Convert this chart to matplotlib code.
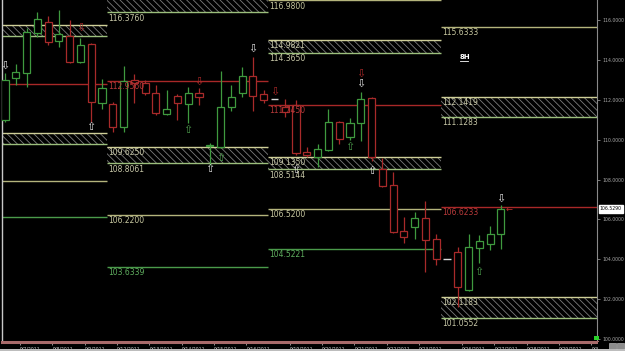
import numpy as np
import matplotlib.pyplot as plt
from matplotlib.patches import Rectangle

plt.rcParams['font.family'] = ['DejaVu Sans']
plt.rcParams['hatch.linewidth'] = 0.6

# 8H bars, one per index
opens  = [110.99, 113.09, 113.34, 115.35, 115.90, 114.95, 115.20, 113.89, 114.80, 111.84,
          111.79, 110.64, 112.99, 112.84, 112.34, 111.29, 112.19, 111.79, 112.34, 109.70,
          109.63, 111.64, 112.34, 113.19, 112.29, 112.04, 111.64, 111.74, 109.38, 109.13,
          109.48, 110.89, 110.14, 110.84, 112.09, 108.53, 107.73, 105.42, 105.62, 106.07,
          105.02, 104.02, 104.37, 102.47, 104.57, 104.77, 105.27]
highs  = [113.34, 113.79, 115.60, 116.40, 116.20, 116.50, 116.00, 115.10, 114.82, 113.04,
          111.89, 113.69, 113.29, 112.99, 112.74, 112.49, 112.29, 112.64, 112.59, 109.85,
          113.44, 112.74, 113.64, 114.15, 112.49, 112.04, 112.04, 111.99, 109.63, 109.79,
          111.54, 110.92, 111.09, 112.39, 112.12, 109.08, 108.38, 106.13, 106.38, 106.93,
          105.27, 104.02, 104.62, 105.27, 105.22, 105.67, 106.73]
lows   = [110.89, 112.74, 112.64, 115.15, 114.75, 114.65, 113.85, 113.85, 110.89, 111.54,
          110.39, 110.39, 111.84, 112.24, 111.24, 111.24, 110.99, 110.84, 111.74, 108.75,
          109.58, 111.44, 112.14, 111.44, 111.84, 112.04, 111.14, 109.23, 109.13, 108.63,
          109.45, 109.79, 109.99, 109.94, 108.95, 107.63, 105.32, 104.82, 105.02, 103.37,
          103.72, 104.02, 101.61, 102.42, 103.82, 104.47, 104.52]
closes = [112.99, 113.39, 115.40, 116.05, 114.90, 115.30, 113.89, 114.75, 111.89, 112.59,
          110.64, 112.94, 112.84, 112.34, 111.34, 111.54, 111.84, 112.34, 112.14, 109.74,
          111.64, 112.14, 113.19, 112.19, 111.99, 112.04, 111.39, 109.33, 109.23, 109.53,
          110.89, 110.04, 110.84, 112.04, 109.13, 107.68, 105.37, 105.12, 106.07, 104.97,
          104.02, 104.02, 102.62, 104.62, 104.92, 105.27, 106.53]
flat_bars = [25, 41]          # short sunday bars
last_price = 106.529

dates = ['9/7/2011', '9/8/2011', '9/9/2011', '9/12/2011', '9/13/2011', '9/14/2011',
         '9/15/2011', '9/16/2011', '9/19/2011', '9/20/2011', '9/21/2011', '9/22/2011',
         '9/23/2011', '9/26/2011', '9/27/2011', '9/28/2011', '9/29/2011', '9/30/2011']
date_bars = [1, 4, 7, 10, 13, 16, 19, 22, 26, 29, 32, 35, 38, 42, 45, 48, 51, 54]

# pivot periods (bar index where each one starts / ends)
seg_start = [-1.0, 9.46, 24.4, 40.45]
seg_end   = [9.46, 24.4, 40.45, 56.0]

band_seg  = [0, 0, 1, 1, 2, 2, 3, 3]
band_low  = [115.20, 109.78, 116.376, 108.8061, 114.365, 108.5144, 111.1283, 101.0552]
band_high = [115.75, 110.34, 117.40, 109.625, 114.9821, 109.135, 112.1419, 102.1183]

line_seg   = [0, 0, 0, 1, 1, 1, 2, 2, 2, 2, 3, 3]
line_price = [112.79, 107.93, 106.13, 112.956, 106.22, 103.6339,
              116.98, 111.745, 106.52, 104.5221, 115.6333, 106.6233]
line_kind  = ['r', 'y', 'g', 'r', 'y', 'g', 'y', 'r', 'y', 'g', 'y', 'r']

sig_bar   = [0, 7, 8, 17, 18, 19, 20, 23, 25, 27, 32, 33, 33, 34, 44, 46]
sig_price = [113.69, 115.60, 110.64, 110.49, 112.89, 108.53, 109.08, 114.55, 112.39,
             108.48, 109.63, 113.29, 112.79, 108.43, 103.37, 107.03]
sig_up    = [0, 0, 1, 1, 0, 1, 1, 0, 0, 1, 1, 0, 0, 1, 1, 0]
sig_col   = ['w', 'r', 'w', 'g', 'r', 'w', 'g', 'w', 'r', 'w', 'g', 'r', 'w', 'w', 'g', 'w']

GREEN = '#3f9a3f'
RED = '#a82a2a'
colmap = {'r': '#a82828', 'y': '#b4b47c', 'g': '#4a9a4a', 'w': '#e0e0e0'}
textmap = {'r': '#b83a3a', 'y': '#c8c8a0', 'g': '#5fae5f'}

fig = plt.figure(figsize=(6.25, 3.51), dpi=100, facecolor='black')
ax = fig.add_axes([2 / 625, 9 / 351, 595 / 625, 342 / 351])
ax.set_facecolor('black')
ax.set_xlim(-0.28, 54.92)
ax.set_ylim(99.86, 117.0)
ytop = ax.get_ylim()[1]

# hatched zones
for s, lo, hi in zip(band_seg, band_low, band_high):
    x0, x1 = seg_start[s], seg_end[s]
    ax.add_patch(Rectangle((x0, lo), x1 - x0, hi - lo, facecolor='none', edgecolor='#7c7c7c',
                           lw=0, hatch='\\\\\\\\\\', zorder=1))
    ax.hlines(hi, x0, x1, color='#cfcf98', lw=1, zorder=2)
    ax.hlines(lo, x0, x1, color='#9cbf7c', lw=1, zorder=2)
    if s > 0:
        for v in (hi, lo):
            if v < ytop:
                ax.text(x0 + 0.15, v - 0.06, f'{v:.4f}', ha='left', va='top', fontsize=5.5,
                        color='#c8c8a8', zorder=5, clip_on=True)

# single levels
for s, v, k in zip(line_seg, line_price, line_kind):
    x0, x1 = seg_start[s], seg_end[s]
    ax.hlines(v, x0, x1, color=colmap[k], lw=1, zorder=2)
    if s > 0:
        ax.text(x0 + 0.15, v - 0.06, f'{v:.4f}', ha='left', va='top', fontsize=5.5,
                color=textmap[k], zorder=5, clip_on=True)

# candles
for i in range(len(opens)):
    o, h, l, c = opens[i], highs[i], lows[i], closes[i]
    if i in flat_bars:
        ax.hlines(o, i - 0.33, i + 0.33, color='#d8d8d8', lw=1, zorder=4)
        continue
    col = GREEN if c >= o else RED
    ax.vlines(i, l, h, color=col, lw=0.9, zorder=3)
    ax.add_patch(Rectangle((i - 0.33, min(o, c)), 0.66, max(abs(c - o), 0.04),
                           facecolor='black', edgecolor=col, lw=0.9, zorder=4))

# signal arrows
for b, p, up, k in zip(sig_bar, sig_price, sig_up, sig_col):
    ax.text(b, p, '\u21e7' if up else '\u21e9', ha='center', va='center', fontsize=8,
            color=colmap[k], zorder=6)
ax.text(len(closes) - 1 + 0.8, last_price, '\u2190', ha='center', va='center',
        fontsize=6, color='#c03030', zorder=6)

ax.text(42.2, 114.15, '8H', color='white', fontsize=5, fontweight='bold', va='center')
ax.plot([42.2, 42.95], [113.93, 113.93], color='white', lw=0.6)

# axes styling
ax.yaxis.tick_right()
yt = np.arange(100, 117, 2)
ax.set_yticks(yt)
ax.set_yticklabels([f'{v:.4f}' for v in yt], fontsize=3.3, color='#a8a8a8')
ax.tick_params(axis='y', length=2, width=0.5, color='#a8a8a8', pad=2)
ax.set_xticks(np.array(date_bars) + 0.4)
ax.set_xticklabels(dates, fontsize=3.3, color='#d0d0d0', ha='left')
ax.tick_params(axis='x', length=2, width=0.5, color='#d0d0d0', pad=1.2)
ax.spines['top'].set_visible(False)
ax.spines['left'].set_color('#c8c8c8')
ax.spines['left'].set_linewidth(1)
ax.spines['right'].set_color('#8a8a8a')
ax.spines['right'].set_linewidth(0.8)
ax.spines['bottom'].set_color('#a86a6a')
ax.spines['bottom'].set_linewidth(2.2)
ax.spines['bottom'].set_linestyle((0, (1, 1)))

ax.annotate(f'{last_price:.4f}', xy=(1.0, last_price), xycoords=('axes fraction', 'data'),
            xytext=(2, 0), textcoords='offset points', fontsize=3.3, color='black',
            ha='left', va='center', annotation_clip=False,
            bbox=dict(boxstyle='square,pad=0.25', fc='white', ec='white'))

# frame bits outside the plot
fig.patches.append(Rectangle((598 / 625, 0), 27 / 625, 9 / 351, transform=fig.transFigure,
                             facecolor='black', zorder=2))
fig.patches.append(Rectangle((0, 0), 1, 2 / 351, transform=fig.transFigure,
                             facecolor='#bdbdbd', zorder=3))
for bx in (609, 617):
    fig.patches.append(Rectangle((bx / 625, 2 / 351), 7 / 625, 6 / 351, transform=fig.transFigure,
                                 facecolor='#8c8c8c', edgecolor='#cccccc', lw=0.4, zorder=3))
fig.patches.append(Rectangle((594 / 625, 11 / 351), 5 / 625, 4 / 351, transform=fig.transFigure,
                             facecolor='#2ad12a', zorder=3))

fig.savefig('out.png', dpi=100, facecolor='black')
